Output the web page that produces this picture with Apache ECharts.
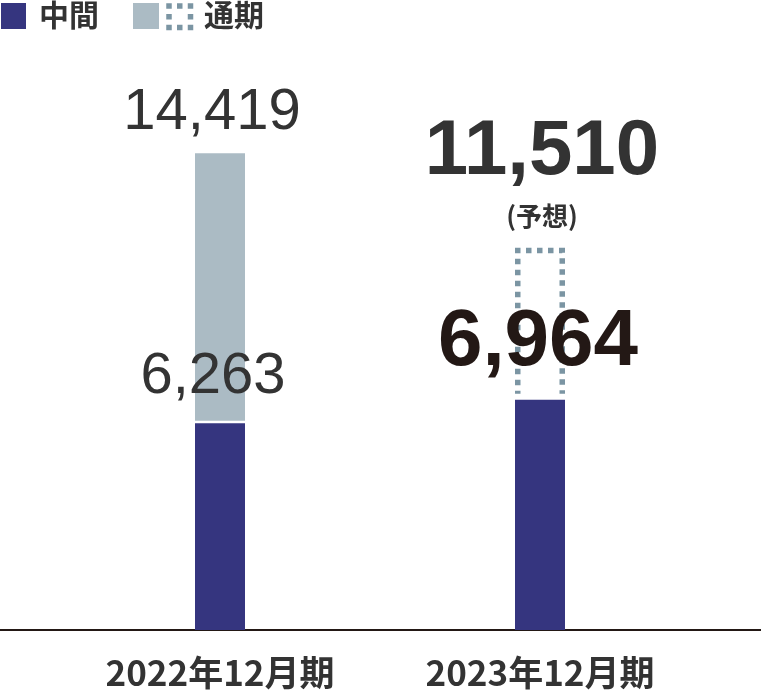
<!DOCTYPE html>
<html><head><meta charset="utf-8">
<script src="https://cdn.jsdelivr.net/npm/echarts@6/dist/echarts.min.js"></script>
<style>html,body{margin:0;padding:0;background:#fff}#c{width:761px;height:694px}</style>
</head><body><div id="c"></div>
<script>
// ---- data ----
const categories = ['2022年12月期', '2023年12月期'];
const halfYear = [6263, 6964];        // 中間
const fullYear = [14419, 11510];      // 通期
const isForecast = [false, true];     // 2023 通期 is a forecast (予想)

const NAVY = '#35357f', GRAY = '#abbbc4', DOT = '#7b95a3';
const NUM_FONT = '"Liberation Sans", Arial, sans-serif';
const CJK_FONT = '"Noto Sans CJK JP", sans-serif';

const remainder = fullYear.map((v, i) => v - halfYear[i]);

const chart = echarts.init(document.getElementById('c'), null, {renderer: 'canvas'});

const halfData = halfYear.map((v, i) => ({
  value: v,
  label: isForecast[i]
    ? {fontSize: 80, fontWeight: 'bold', color: '#231815', distance: 17, offset: [-2, 0]}
    : {fontSize: 58, fontWeight: 'normal', color: '#333333', distance: 17, offset: [-7, 0]}
}));

const restData = remainder.map((v, i) => isForecast[i] ? ({
  value: v,
  itemStyle: {color: 'rgba(0,0,0,0)', borderWidth: 0},
  label: {
    formatter: () => '{a|' + fullYear[i].toLocaleString('en-US') + '}\n{b|(予想)}',
    distance: 9, offset: [2, 0],
    rich: {
      a: {fontSize: 78, fontWeight: 'bold', fontFamily: NUM_FONT, color: '#333333', lineHeight: 80, align: 'center'},
      b: {fontSize: 26, fontWeight: 'bold', fontFamily: CJK_FONT, color: '#333333', lineHeight: 48, align: 'center'}
    }
  }
}) : ({
  value: v,
  itemStyle: {color: GRAY},
  label: {
    formatter: () => fullYear[i].toLocaleString('en-US'),
    fontSize: 58, color: '#333333', distance: 11, offset: [-8, 0]
  }
}));

const forecastBox = [];
const separators = [];
isForecast.forEach((f, i) => {
  if (f) forecastBox.push([i, halfYear[i], fullYear[i]]);
  else separators.push([i, halfYear[i]]);
});

function renderBox(params, api) {
  const idx = api.value(0);
  const bot = api.coord([idx, api.value(1)]);
  const top = api.coord([idx, api.value(2)]);
  const w = 50;
  const lw = 5.5;
  const xl = bot[0] - w / 2 + lw / 2;
  const xr = bot[0] + w / 2 - lw / 2;
  const yt = top[1] + 1;
  const yb = bot[1] - 6;
  const L = yb - yt;
  const P = 11, d = 5.5;
  let o = (d / 2 - L) % P; if (o < 0) o += P;
  return {
    type: 'polyline',
    shape: {points: [[xl, yb], [xl, yt], [xr, yt], [xr, yb]]},
    style: {stroke: DOT, lineWidth: lw, fill: null, lineDash: [d, P - d], lineDashOffset: o, lineCap: 'butt', lineJoin: 'miter'}
  };
}

function renderSep(params, api) {
  const p = api.coord([api.value(0), api.value(1)]);
  return {
    type: 'line',
    shape: {x1: p[0] - 26, y1: p[1] - 1, x2: p[0] + 26, y2: p[1] - 1},
    style: {stroke: '#ffffff', lineWidth: 2.5}
  };
}

const option = {
  animation: false,
  backgroundColor: '#ffffff',
  textStyle: {fontFamily: NUM_FONT},
  grid: [
    {left: 0, right: 0, top: 101, bottom: 64},
    {left: 60, right: 61, top: 101, bottom: 64}
  ],
  xAxis: [
    {gridIndex: 0, type: 'category', data: [''], axisLine: {show: true, lineStyle: {color: '#231815', width: 2}},
     axisTick: {show: false}, axisLabel: {show: false}, splitLine: {show: false}},
    {gridIndex: 1, type: 'category', data: categories, axisLine: {show: false}, axisTick: {show: false},
     axisLabel: {fontSize: 35, fontWeight: 'bold', fontFamily: CJK_FONT, color: '#333333', margin: 25}}
  ],
  yAxis: [
    {gridIndex: 0, type: 'value', min: 0, max: 16000, show: false},
    {gridIndex: 1, type: 'value', min: 0, max: 16000, show: false}
  ],
  graphic: [
    {type: 'rect', left: 1, top: 3, shape: {width: 25, height: 26}, style: {fill: NAVY}},
    {type: 'text', left: 39, top: 0, style: {text: '中間', fontSize: 30, fontWeight: 'bold', fontFamily: CJK_FONT, fill: '#333333'}},
    {type: 'rect', left: 133, top: 3, shape: {width: 26, height: 26}, style: {fill: GRAY}},
    {type: 'rect', x: 169, y: 6, shape: {width: 21.5, height: 21.5},
     style: {fill: null, stroke: DOT, lineWidth: 5.5, lineDash: [5.5, 5.25], lineDashOffset: 2.75}},
    {type: 'text', left: 204, top: 0, style: {text: '通期', fontSize: 30, fontWeight: 'bold', fontFamily: CJK_FONT, fill: '#333333'}}
  ],
  series: [
    {name: '中間', type: 'bar', xAxisIndex: 1, yAxisIndex: 1, stack: 'a', barWidth: 50, z: 3,
     itemStyle: {color: NAVY},
     label: {show: true, position: 'top', fontFamily: NUM_FONT,
             formatter: p => halfYear[p.dataIndex].toLocaleString('en-US')},
     data: halfData},
    {name: '通期', type: 'bar', xAxisIndex: 1, yAxisIndex: 1, stack: 'a', barWidth: 50, z: 2,
     label: {show: true, position: 'top', fontFamily: NUM_FONT},
     data: restData},
    {name: '通期予想', type: 'custom', xAxisIndex: 1, yAxisIndex: 1, z: 1,
     renderItem: renderBox, encode: {x: 0, y: [1, 2]}, data: forecastBox},
    {name: '区切り', type: 'custom', xAxisIndex: 1, yAxisIndex: 1, z: 4, silent: true,
     renderItem: renderSep, encode: {x: 0, y: 1}, data: separators}
  ]
};
chart.setOption(option);
</script></body></html>
